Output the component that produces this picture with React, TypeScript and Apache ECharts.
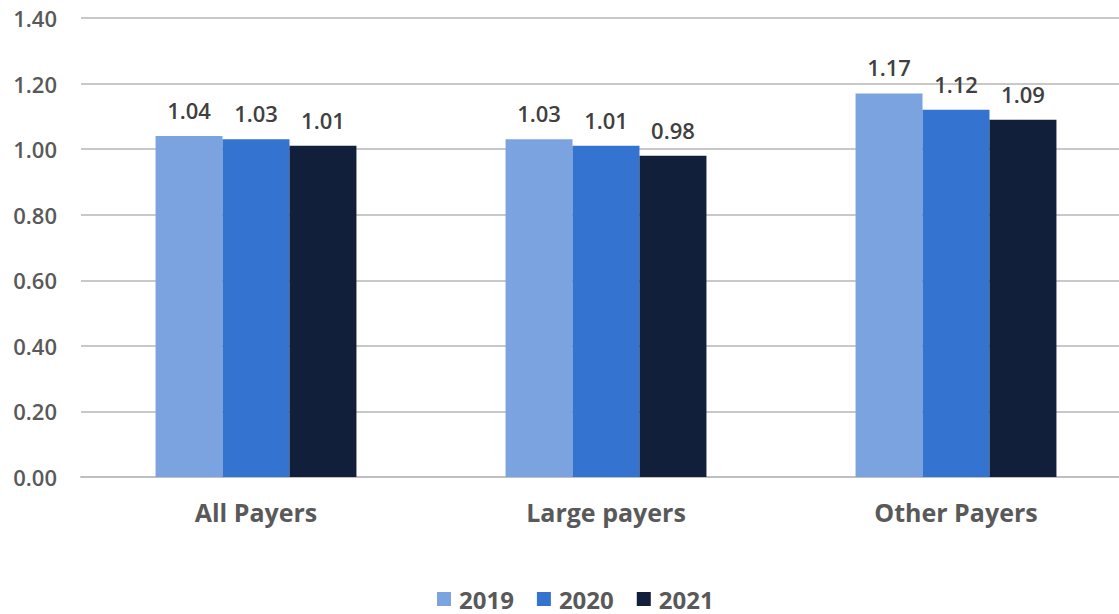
import React, { useEffect, useRef } from "react";
import * as echarts from "echarts";

const categories = ["All Payers", "Large payers", "Other Payers"];
const seriesNames = ["2019", "2020", "2021"];
const values2019 = [1.04, 1.03, 1.17];
const values2020 = [1.03, 1.01, 1.12];
const values2021 = [1.01, 0.98, 1.09];
const colors = ["#7BA3DF", "#3473CF", "#111F3A"];

const FONT = "'Open Sans', 'DejaVu Sans', sans-serif";
const TEXT = "#595959";

export default function App() {
  const ref = useRef<HTMLDivElement>(null);
  useEffect(() => {
    if (!ref.current) return;
    const chart = echarts.init(ref.current, undefined, { renderer: "svg" });
    const data = [values2019, values2020, values2021];
    chart.setOption({
      animation: false,
      textStyle: { fontFamily: FONT },
      grid: {
        left: 81,
        width: 1050,
        top: 18,
        bottom: 137,
        containLabel: false,
        outerBoundsMode: "none",
      },
      legend: {
        top: 586,
        left: 437,
        padding: 0,
        itemWidth: 14,
        itemHeight: 14,
        itemGap: 23,
        icon: "rect",
        textStyle: {
          fontFamily: FONT,
          fontSize: 24,
          lineHeight: 26,
          fontWeight: "bold",
          color: TEXT,
          padding: [0, 0, 0, 3],
        },
        data: seriesNames,
      },
      xAxis: {
        type: "category",
        data: categories,
        axisLine: { lineStyle: { color: "#BFBFBF", width: 2 } },
        axisTick: { show: false },
        axisLabel: { fontFamily: FONT, fontSize: 25, fontWeight: "bold", color: TEXT, margin: 22 },
      },
      yAxis: {
        type: "value",
        min: 0,
        max: 1.4,
        interval: 0.2,
        axisLine: { show: false },
        axisTick: { show: false },
        splitLine: { lineStyle: { color: "#C8C8C8", width: 2 } },
        axisLabel: {
          fontFamily: FONT,
          fontSize: 22,
          fontWeight: 600,
          color: TEXT,
          margin: 24,
          formatter: (v: number) => v.toFixed(2),
        },
      },
      series: seriesNames.map((name, i) => ({
        name,
        type: "bar",
        data: data[i],
        barGap: "0%",
        barCategoryGap: "42.6%",
        itemStyle: { color: colors[i] },
        label: {
          show: true,
          position: "top",
          distance: 15,
          fontFamily: FONT,
          fontSize: 22,
          fontWeight: 600,
          color: "#404040",
          formatter: (p: any) => p.value.toFixed(2),
        },
      })),
    });
    return () => chart.dispose();
  }, []);
  return <div ref={ref} style={{ width: 1119, height: 614, position: "absolute", left: 0, top: 0 }} />;
}
